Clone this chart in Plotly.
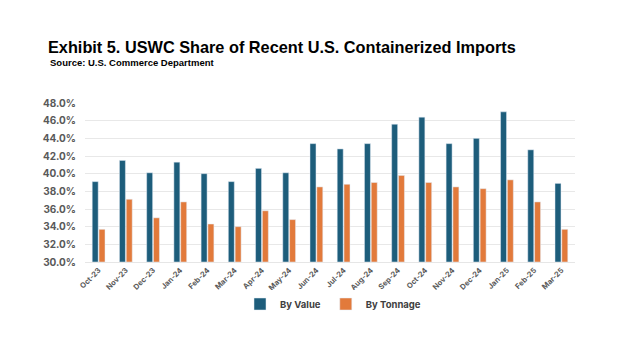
import plotly.graph_objects as go

months = ["Oct-23", "Nov-23", "Dec-23", "Jan-24", "Feb-24", "Mar-24", "Apr-24", "May-24", "Jun-24",
          "Jul-24", "Aug-24", "Sep-24", "Oct-24", "Nov-24", "Dec-24", "Jan-25", "Feb-25", "Mar-25"]
by_value = [39.1, 41.5, 40.1, 41.3, 40.0, 39.1, 40.6, 40.1, 43.4,
            42.8, 43.4, 45.6, 46.4, 43.4, 44.0, 47.0, 42.7, 38.9]
by_tonnage = [33.7, 37.1, 35.0, 36.8, 34.3, 34.0, 35.8, 34.8, 38.5,
              38.8, 39.0, 39.8, 39.0, 38.5, 38.3, 39.3, 36.8, 33.7]
y_ticks = [30, 32, 34, 36, 38, 40, 42, 44, 46, 48]

BLUE = "#1D5D7B"
ORANGE = "#E27A3B"
FONT = "Inter"

fig = go.Figure()
fig.add_trace(go.Bar(name="By Value", x=months, y=[v - 30 for v in by_value], base=30,
                     marker_color=BLUE))
fig.add_trace(go.Bar(name="By Tonnage", x=months, y=[v - 30 for v in by_tonnage], base=30,
                     marker_color=ORANGE))

fig.update_layout(
    width=624, height=351,
    margin=dict(l=85, r=49, t=103, b=89),
    paper_bgcolor="white", plot_bgcolor="white",
    barmode="group", bargap=0.5, bargroupgap=0.12,
    font=dict(family=FONT, color="#595959"),
    title=dict(text="<b>Exhibit 5. USWC Share of Recent U.S. Containerized Imports</b>",
               x=48/624, xanchor="left", y=1-47/351, yanchor="middle",
               font=dict(family="Liberation Sans", size=16.3, color="#000000")),
    annotations=[dict(text="<b>Source: U.S. Commerce Department</b>", xref="paper", yref="paper",
                      x=-37/490, y=1+(103-62)/159, xanchor="left", yanchor="middle", showarrow=False,
                      font=dict(family="Liberation Sans", size=9.5, color="#000000"))],
    legend=dict(orientation="h", x=(240-85)/490, xanchor="left", y=-(304-262)/159, yanchor="middle",
                font=dict(family=FONT, size=9.5, color="#404040", weight="bold"),
                itemwidth=30, traceorder="normal"),
    showlegend=True,
)
fig.update_xaxes(tickangle=-45, tickfont=dict(size=7.5, color="#595959", weight="bold"),
                 showgrid=False, showline=True, linecolor="#e6e6e6", ticks="")
fig.update_yaxes(range=[30, 48], tickvals=y_ticks, ticktext=[f"{t:.1f}%" for t in y_ticks],
                 tickfont=dict(size=10, color="#595959", weight="bold"),
                 showgrid=True, gridcolor="#e8e8e8", gridwidth=1, zeroline=False, ticks="",
                 ticklabelstandoff=8)

fig.write_html("out.html")
